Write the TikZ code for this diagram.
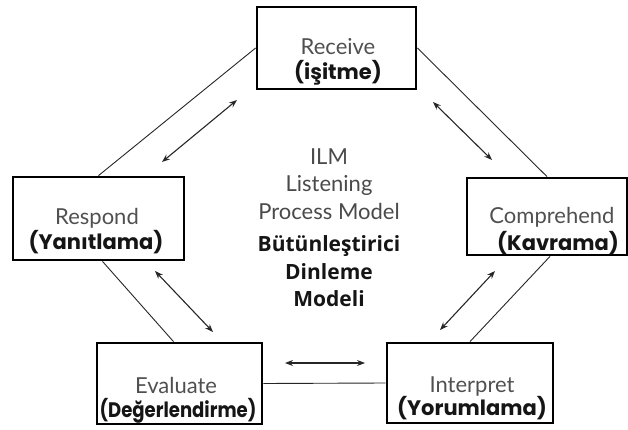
\documentclass[tikz,border=0pt]{standalone}
\usepackage{fontspec}
\setmainfont{Lato}
\newfontfamily\trfont{Poppins}
\newfontfamily\cfont{Open Sans}
\usetikzlibrary{arrows.meta}
\definecolor{engray}{HTML}{505050}
\definecolor{txtblack}{HTML}{151515}
\definecolor{cgray}{HTML}{4a4a4a}
\tikzset{
  stagebox/.style={draw=black, line width=2.8pt, inner sep=0pt},
  conn/.style={draw=black!85, line width=0.9pt},
  dblarrow/.style={{Stealth[length=8pt,width=6pt]}-{Stealth[length=8pt,width=6pt]}, line width=1.1pt, draw=black!85},
  entext/.style={font=\fontsize{22}{26}\selectfont, text=engray, anchor=base, inner sep=0pt},
  trtext/.style={font=\trfont\bfseries\fontsize{21}{25}\selectfont, text=txtblack, anchor=base, inner sep=0pt},
  ctext/.style={font=\fontsize{22}{26}\selectfont, text=cgray, anchor=base, inner sep=0pt},
  cbold/.style={font=\cfont\bfseries\fontsize{21}{25}\selectfont, text=txtblack, anchor=base, inner sep=0pt}
}
\begin{document}
\begin{tikzpicture}[x=1pt,y=-1pt]
\useasboundingbox (0,0) rectangle (628,430);
% boxes
\node[stagebox, minimum width=159pt, minimum height=82pt] (rec) at (336.5,48) {};
\node[stagebox, minimum width=171pt, minimum height=83pt] (res) at (98.5,218.5) {};
\node[stagebox, minimum width=160pt, minimum height=77pt] (com) at (547,216.5) {};
\node[stagebox, minimum width=165pt, minimum height=81pt] (eva) at (179.5,383.5) {};
\node[stagebox, minimum width=166pt, minimum height=80pt] (int) at (470,383) {};
% texts
\node[entext] (recE) at (338,55) {Receive};
\node[trtext] (recT) at (338,80) {(işitme)};
\node[entext] (resE) at (97,224) {Respond};
\node[trtext] (resT) at (96,249) {(Yanıtlama)};
\node[entext] (comE) at (552,223) {Comprehend};
\node[trtext] (comT) at (558,250) {(Kavrama)};
\node[entext] (evaE) at (176,393) {Evaluate};
\node[trtext] (evaT) at (178,417) {\scalebox{0.86}[1]{(Değerlendirme)}};
\node[entext] (intE) at (472,392) {Interpret};
\node[trtext] (intT) at (472,415) {(Yorumlama)};
% center
\node[ctext] (c1) at (329,165) {ILM};
\node[ctext] (c2) at (329,192) {Listening};
\node[ctext] (c3) at (329,219) {Process Model};
\node[cbold] (c4) at (329,251) {Bütünleştirici};
\node[cbold] (c5) at (329,279) {Dinleme};
\node[cbold] (c6) at (329,306) {Modeli};
% connectors
\draw[conn] (rec.west) -- (res.north);
\draw[conn] (rec.east) -- (com.north);
\draw[conn] ([xshift=4pt]res.south) -- ([xshift=-6pt]eva.north);
\draw[conn] ([xshift=3pt]com.south) -- (int.north);
\draw[conn] (eva.east) -- (int.west);
% arrows
\coordinate (a1s) at (237,100); \coordinate (a1e) at (162,162);
\coordinate (a2s) at (433,102); \coordinate (a2e) at (492,160);
\coordinate (a3s) at (155,271); \coordinate (a3e) at (213,332);
\coordinate (a4s) at (495,271); \coordinate (a4e) at (440,330);
\coordinate (a5s) at (285,363); \coordinate (a5e) at (365,363);
\draw[dblarrow] (a1s) -- (a1e);
\draw[dblarrow] (a2s) -- (a2e);
\draw[dblarrow] (a3s) -- (a3e);
\draw[dblarrow] (a4s) -- (a4e);
\draw[dblarrow] (a5s) -- (a5e);
\end{tikzpicture}
\end{document}
